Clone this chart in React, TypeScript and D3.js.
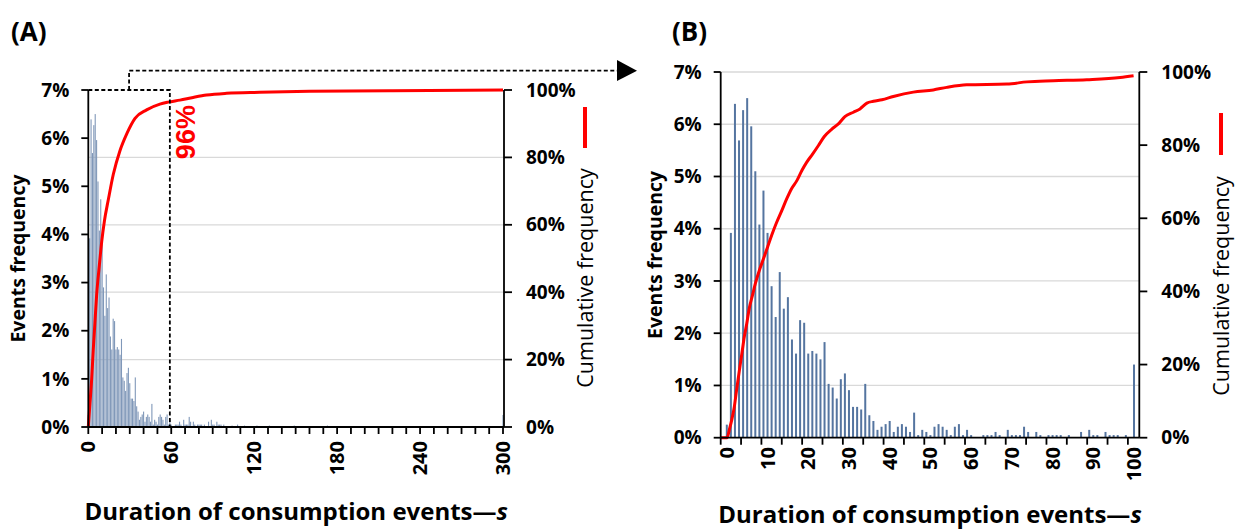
import React from "react";
import * as d3 from "d3";

// event frequency (%) per duration in seconds, index = seconds (0..99), last entry = 100 s and over
const freqB = [
  0.25, 3.92, 6.39, 5.69, 6.27, 6.5, 5.96, 5.1, 4.08, 4.73,
  3.92, 2.9, 2.31, 3.17, 2.47, 2.69, 1.88, 1.61, 2.25, 2.2,
  1.61, 1.66, 1.61, 1.5, 1.83, 1.03, 0.96, 0.75, 1.12, 1.23,
  0.91, 0.59, 0.59, 0.54, 1.03, 0.43, 0.32, 0.15, 0.21, 0.26,
  0.32, 0.11, 0.21, 0.26, 0.21, 0.11, 0.48, 0.05, 0.15, 0.11,
  0.05, 0.21, 0.26, 0.21, 0.15, 0.05, 0.21, 0.26, 0.05, 0.15,
  0.05, 0, 0, 0.05, 0.05, 0.05, 0.11, 0.05, 0, 0.15,
  0.05, 0.05, 0.05, 0.21, 0.11, 0, 0.11, 0.05, 0, 0.05,
  0.05, 0.05, 0.05, 0, 0.05, 0, 0, 0.11, 0, 0.15,
  0.05, 0.05, 0, 0.11, 0.05, 0.05, 0.05, 0, 0.05, 0,
  1.4,
];

// panel A: durations above 100 s (seconds, %)
const tailA: [number, number][] = [
  [104, 0.03], [108, 0.05], [113, 0.03], [122, 0.03], [131, 0.03], [136, 0.02],
  [149, 0.03], [164, 0.02], [173, 0.03], [190, 0.02], [215, 0.02], [240, 0.02],
  [262, 0.02], [285, 0.02], [300, 0.25],
];

// cumulative frequency (%)
const cumA: [number, number][] = [
  [0, 0], [1.2, 7], [2.4, 14], [3.6, 23], [4.8, 31], [6, 39], [8, 48], [9.7, 55],
  [11.6, 61], [14.5, 67.5], [18.1, 75], [22.9, 82], [27.8, 87], [33.8, 91.6],
  [42.2, 94.1], [51.8, 95.8], [57.8, 96.4], [66.3, 97], [75.9, 97.8], [85.6, 98.5],
  [100, 99], [124, 99.3], [160, 99.6], [220, 99.8], [300, 100],
];
const cumB: [number, number][] = [
  [-1.5, 0], [0.1, 0], [0.6, 2.1], [1.2, 4.8], [1.85, 8.5], [2.4, 13], [3.1, 18.5],
  [3.7, 23], [4.3, 27.6], [4.9, 31.2], [5.5, 35.3], [6.3, 38.9], [7, 42.1], [8, 45.8],
  [9, 48.9], [10, 52.1], [11, 55.3], [12.1, 58.5], [13.5, 62.1], [14.7, 65.3],
  [15.9, 68.1], [17.2, 70.3], [18.4, 73], [19.6, 75.3], [21.1, 77.6], [22.5, 79.9],
  [23.9, 82.3], [25.8, 84.4], [27.4, 85.8], [29, 87.8], [31.1, 89], [32.7, 89.9],
  [34.4, 91.5], [36, 92], [38.1, 92.4], [40.9, 93.3], [45.8, 94.5], [50.7, 95.1],
  [54, 95.8], [58.9, 96.5], [68.8, 96.7], [73.7, 97.3], [80.2, 97.6], [88.4, 97.9],
  [96.6, 98.5], [99.9, 99],
];

const leftTicks = [0, 1, 2, 3, 4, 5, 6, 7];
const rightTicks = [0, 20, 40, 60, 80, 100];
const xLabelsA = [0, 60, 120, 180, 240, 300];
const xLabelsB = [0, 10, 20, 30, 40, 50, 60, 70, 80, 90, 100];
const boxEndA = 59; // dashed zoom box, 0..59 s -> 96%

const FONT = "'Open Sans', sans-serif";
const RED = "#ff0000";
const GRID = "#d9d9d9";
const BAR_A = "#8098b9";
const BAR_B = "#5575a0";

type PanelProps = {
  letter: string;
  letterX: number;
  left: number;
  right: number;
  top: number;
  bottom: number;
  x: d3.ScaleLinear<number, number>;
  bars: [number, number][];
  barW: number;
  barColor: string;
  cum: [number, number][];
  xTicks: number[];
  xLabels: number[];
  grid: number[]; // in right-axis %
  leftTitleX: number;
  rightTitleX: number;
  legendY: [number, number];
  rightTitleY: number;
  xTitleY: number;
  xLabelTop: number;
};

function Panel(p: PanelProps) {
  const yL = d3.scaleLinear().domain([0, 7]).range([p.bottom, p.top]);
  const yR = d3.scaleLinear().domain([0, 100]).range([p.bottom, p.top]);
  const line = d3
    .line<[number, number]>()
    .x((d) => p.x(d[0]))
    .y((d) => yR(d[1]))
    .curve(d3.curveMonotoneX);
  const midY = (p.top + p.bottom) / 2;
  return (
    <g>
      <text x={p.letterX} y={41} fontSize={26} fontWeight="bold" fontFamily={FONT}>
        {p.letter}
      </text>
      {p.grid.map((g) => (
        <line key={g} x1={p.left} x2={p.right} y1={yR(g)} y2={yR(g)} stroke={GRID} strokeWidth={1.3} />
      ))}
      {p.bars.map(([v, f], i) =>
        f > 0 ? (
          <rect
            key={i}
            x={p.x(v) - p.barW / 2}
            width={p.barW}
            y={yL(f)}
            height={p.bottom - yL(f)}
            fill={p.barColor}
          />
        ) : null
      )}
      <path d={line(p.cum) || ""} fill="none" stroke={RED} strokeWidth={3} strokeLinejoin="round" />
      {/* axes */}
      <line x1={p.left} x2={p.left} y1={p.top} y2={p.bottom} stroke="#000" strokeWidth={1.8} />
      <line x1={p.right} x2={p.right} y1={p.top} y2={p.bottom} stroke="#000" strokeWidth={1.8} />
      <line x1={p.left} x2={p.right} y1={p.bottom} y2={p.bottom} stroke="#000" strokeWidth={1.8} />
      {leftTicks.map((t) => (
        <g key={t}>
          <line x1={p.left - 7} x2={p.left} y1={yL(t)} y2={yL(t)} stroke="#000" strokeWidth={1.8} />
          <text
            x={p.left - 19}
            y={yL(t)}
            dy="0.35em"
            textAnchor="end"
            fontSize={19}
            fontWeight="bold"
            fontFamily={FONT}
          >
            {t}%
          </text>
        </g>
      ))}
      {rightTicks.map((t) => (
        <g key={t}>
          <line x1={p.right} x2={p.right + 8} y1={yR(t)} y2={yR(t)} stroke="#000" strokeWidth={1.8} />
          <text x={p.right + 22} y={yR(t)} dy="0.35em" fontSize={19} fontWeight="bold" fontFamily={FONT}>
            {t}%
          </text>
        </g>
      ))}
      {p.xTicks.map((t) => (
        <line key={t} x1={p.x(t)} x2={p.x(t)} y1={p.bottom} y2={p.bottom + 7} stroke="#000" strokeWidth={1.8} />
      ))}
      {p.xLabels.map((t) => (
        <text
          key={t}
          transform={`translate(${p.x(t)},${p.xLabelTop}) rotate(-90)`}
          dy="0.35em"
          textAnchor="end"
          fontSize={20}
          fontWeight="bold"
          fontFamily={FONT}
        >
          {t}
        </text>
      ))}
      {/* titles */}
      <text
        transform={`translate(${p.leftTitleX},${midY}) rotate(-90)`}
        dy="0.35em"
        textAnchor="middle"
        fontSize={19.5}
        fontWeight="bold"
        fontFamily={FONT}
      >
        Events frequency
      </text>
      <text
        transform={`translate(${p.rightTitleX},${p.rightTitleY}) rotate(-90)`}
        dy="0.35em"
        textAnchor="middle"
        fontSize={21.5}
        fontFamily={FONT}
      >
        Cumulative frequency
      </text>
      <line
        x1={p.rightTitleX}
        x2={p.rightTitleX}
        y1={p.legendY[0]}
        y2={p.legendY[1]}
        stroke={RED}
        strokeWidth={4}
      />
      <text
        x={(p.left + p.right) / 2}
        y={p.xTitleY}
        textAnchor="middle"
        fontSize={24}
        fontWeight="bold"
        fontFamily={FONT}
      >
        Duration of consumption events—<tspan fontStyle="italic">s</tspan>
      </text>
    </g>
  );
}

export default function App() {
  // panel A: 0..300 s
  const xA = d3.scaleLinear().domain([0, 300]).range([88.3, 503]);
  const barsA: [number, number][] = [
    ...freqB.slice(0, 100).map((f, i) => [i, f] as [number, number]),
    ...tailA,
  ];
  const ticksA = d3.range(0, 301, 10);

  // panel B: 0..100 s, one bar per second
  const xB = d3.scaleLinear().domain([-1.5, 101.3]).range([720.7, 1139.3]);
  const barsB: [number, number][] = freqB.map((f, i) => [i, f]);
  const ticksB = d3.range(0, 21).map((k) => -1.5 + 5 * k);

  const topA = 90;
  const bottomA = 427;
  const yRA = d3.scaleLinear().domain([0, 100]).range([bottomA, topA]);
  const boxRight = xA(boxEndA);
  const stubX = xA(boxEndA / 2);
  const arrowY = 70.7;

  return (
    <div style={{ position: "absolute", left: 0, top: 0 }}>
      <svg width={1237} height={531} style={{ display: "block", background: "#fff" }}>
        <Panel
          letter="(A)"
          letterX={11}
          left={88.3}
          right={504}
          top={topA}
          bottom={bottomA}
          x={xA}
          bars={barsA}
          barW={1.1}
          barColor={BAR_A}
          cum={cumA}
          xTicks={ticksA}
          xLabels={xLabelsA}
          grid={[20, 40, 60, 80]}
          leftTitleX={18}
          rightTitleX={585}
          rightTitleY={278}
          legendY={[107, 148]}
          xTitleY={520}
          xLabelTop={441}
        />
        <Panel
          letter="(B)"
          letterX={672}
          left={720.7}
          right={1139.3}
          top={72}
          bottom={437.7}
          x={xB}
          bars={barsB}
          barW={2}
          barColor={BAR_B}
          cum={cumB}
          xTicks={ticksB}
          xLabels={xLabelsB}
          grid={[100 / 7, 200 / 7, 300 / 7, 400 / 7, 500 / 7, 600 / 7, 100]}
          leftTitleX={655}
          rightTitleX={1221}
          rightTitleY={286}
          legendY={[113, 155]}
          xTitleY={523}
          xLabelTop={447}
        />
        {/* zoom box and arrow from A to B */}
        <g fill="none" stroke="#000" strokeWidth={1.8} strokeDasharray="4,2.5">
          <polyline points={`${xA(0)},${topA} ${boxRight},${topA} ${boxRight},${bottomA}`} />
          <polyline points={`${stubX},${topA} ${stubX},${arrowY} 618,${arrowY}`} />
        </g>
        <polygon points={`617,60 637,${arrowY} 617,81`} fill="#000" />
        <text
          transform={`translate(${boxRight + 16},${yRA(87.5)}) rotate(-90)`}
          dy="0.35em"
          textAnchor="middle"
          fontSize={27}
          fontWeight="bold"
          fontFamily="'Liberation Sans', Arial, sans-serif"
          fill={RED}
        >
          96%
        </text>
      </svg>
    </div>
  );
}
